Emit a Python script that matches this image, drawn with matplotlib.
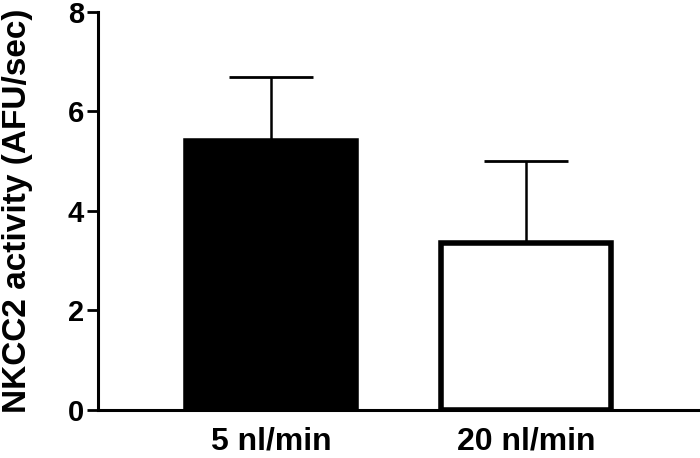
import matplotlib.pyplot as plt

categories = ['5 nl/min', '20 nl/min']
means = [5.4, 3.35]
sem = [1.3, 1.65]
face_colors = ['black', 'white']

plt.rcParams['font.family'] = ['Liberation Sans', 'DejaVu Sans']
plt.rcParams['font.weight'] = 'bold'

fig = plt.figure(figsize=(7, 4.58), dpi=100)
ax = fig.add_axes([0.14, 0.105, 0.857, 0.869])

x = list(range(len(categories)))
ax.bar(x, means, width=0.667, color=face_colors, edgecolor='black', linewidth=4, zorder=2)
ax.errorbar(x, means, yerr=[[0] * len(sem), sem], fmt='none', ecolor='black',
            elinewidth=1.8, capsize=30, capthick=2, zorder=1)

ax.set_xlim(-0.678, 1.675)
ax.set_ylim(0, 8)
ax.set_yticks([0, 2, 4, 6, 8])
ax.set_xticks(x)
ax.set_xticklabels(categories, fontsize=23, fontweight='bold')
ax.tick_params(axis='y', labelsize=21, width=2, length=8, pad=2)
ax.tick_params(axis='x', length=0, pad=12)
for lab in ax.get_yticklabels():
    lab.set_fontweight('bold')
ax.set_ylabel('NKCC2 activity (AFU/sec)', fontsize=24, fontweight='bold')
ax.yaxis.set_label_coords(-0.108, 0.5)

ax.spines['top'].set_visible(False)
ax.spines['right'].set_visible(False)
ax.spines['left'].set_linewidth(2.2)
ax.spines['bottom'].set_linewidth(2.2)

fig.savefig('out.png', dpi=100)
